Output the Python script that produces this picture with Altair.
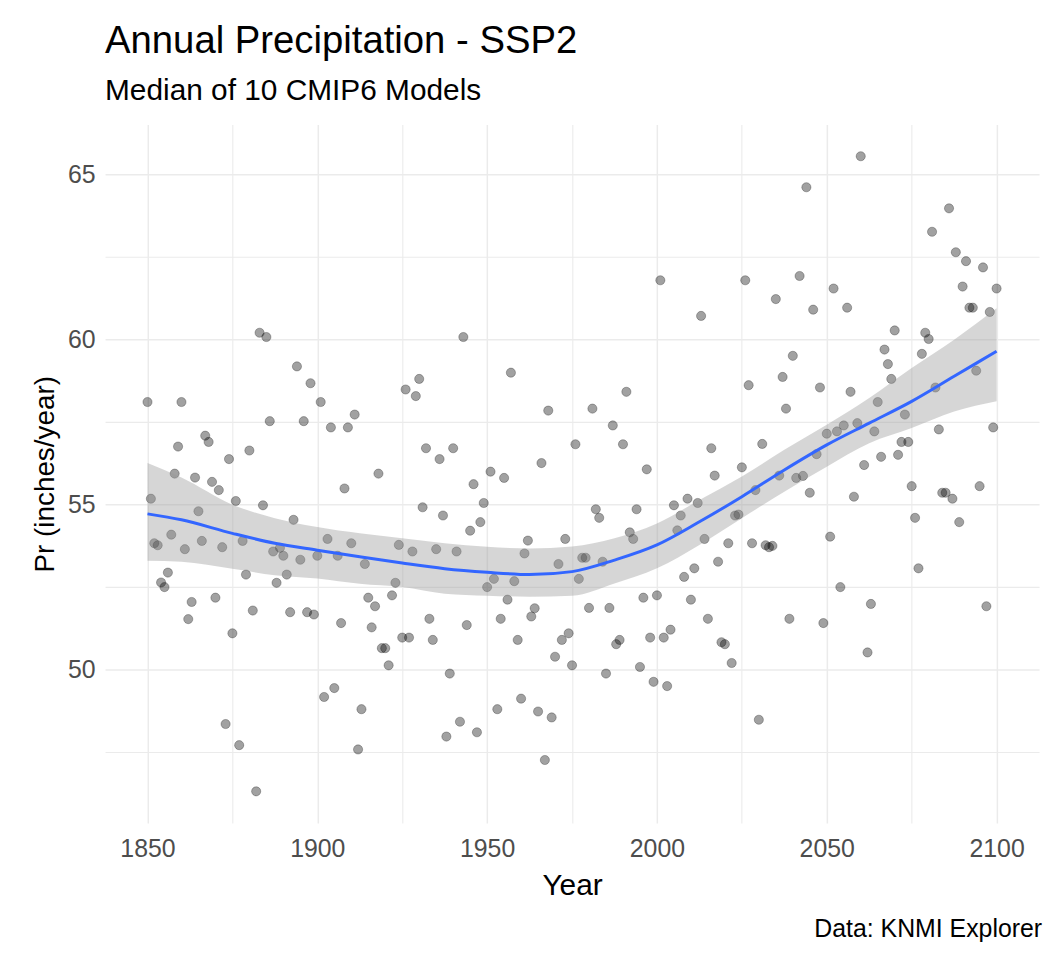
import altair as alt
import pandas as pd

# ---- data ----
years = list(range(1850, 2101))
precip = [
    58.11, 55.18, 53.83, 53.77, 52.64, 52.50, 52.94, 54.09, 55.94, 56.76,  # 1850-1859
    58.11, 53.65, 51.53, 52.05, 55.82, 54.80, 53.90, 57.09, 56.90, 55.69,  # 1860-1869
    52.18, 55.44, 53.71, 48.35, 56.38, 51.10, 55.11, 47.71, 53.90, 52.88,  # 1870-1879
    56.64, 51.79, 46.31, 60.21, 54.98, 60.08, 57.53, 53.58, 52.63, 53.69,  # 1880-1889
    53.45, 52.88, 51.74, 54.54, 59.19, 53.33, 57.53, 51.74, 58.68, 51.67,  # 1890-1899
    53.45, 58.11, 49.17, 53.96, 57.34, 49.44, 53.45, 51.41, 55.49, 57.34,  # 1900-1909
    53.83, 57.73, 47.58, 48.80, 53.20, 52.18, 51.28, 51.92, 55.94, 50.65,  # 1910-1919
    50.65, 50.13, 52.25, 52.63, 53.78, 50.97, 58.49, 50.97, 53.58, 58.29,  # 1920-1929
    58.81, 54.92, 56.71, 51.54, 50.90, 53.65, 56.38, 54.67, 47.97, 49.88,  # 1930-1939
    56.71, 53.58, 48.42, 60.08, 51.35, 54.21, 55.62, 48.10, 54.47, 55.05,  # 1940-1949
    52.50, 56.00, 52.75, 48.80, 51.54, 55.81, 52.12, 59.00, 52.68, 50.90,  # 1950-1959
    49.12, 53.52, 53.91, 51.61, 51.86, 48.73, 56.26, 47.26, 57.85, 48.55,  # 1960-1969
    50.39, 53.20, 50.90, 53.96, 51.10, 50.13, 56.83, 52.75, 53.39, 53.39,  # 1970-1979
    51.87, 57.91, 54.86, 54.60, 53.27, 49.88, 51.87, 57.40, 50.77, 50.90,  # 1980-1989
    56.83, 58.42, 54.16, 53.96, 54.86, 50.08, 52.18, 56.07, 50.97, 49.63,  # 1990-1999
    52.25, 61.80, 50.97, 49.50, 51.21, 54.98, 54.22, 54.67, 52.81, 55.18,  # 2000-2009
    52.12, 53.07, 55.05, 60.72, 53.96, 51.54, 56.71, 55.88, 53.27, 50.83,  # 2010-2019
    50.77, 53.83, 50.20, 54.67, 54.70, 56.13, 61.80, 58.62, 53.83, 55.44,  # 2020-2029
    48.48, 56.84, 53.77, 53.71, 53.75, 61.23, 55.88, 58.87, 57.91, 51.54,  # 2030-2039
    59.51, 55.81, 61.93, 55.87, 64.62, 55.36, 60.91, 56.53, 58.55, 51.41,  # 2040-2049
    57.15, 54.03, 61.55, 57.22, 52.50, 57.40, 60.97, 58.42, 55.24, 57.47,  # 2050-2059
    65.56, 56.20, 50.52, 51.99, 57.22, 58.11, 56.45, 59.70, 59.26, 58.81,  # 2060-2069
    60.28, 56.51, 56.90, 57.73, 56.90, 55.56, 54.60, 53.07, 59.57, 60.21,  # 2070-2079
    60.02, 63.27, 58.55, 57.28, 55.36, 55.36, 63.98, 55.18, 62.65, 54.47,  # 2080-2089
    61.61, 62.38, 60.97, 60.97, 59.06, 55.56, 62.19, 51.92, 60.84, 57.34,  # 2090-2099
    61.55,                                                                 # 2100
]

# smoothed curve (loess) and its confidence band
smooth_year = [1850, 1860, 1875, 1887.5, 1900, 1912.5, 1925, 1937.5, 1950, 1962.5, 1975,
               1987.5, 2000, 2012.5, 2025, 2037.5, 2050, 2062.5, 2075, 2087.5, 2100]
smooth_fit = [54.72, 54.54, 54.13, 53.83, 53.62, 53.42, 53.23, 53.06, 52.95, 52.88, 52.97,
              53.32, 53.78, 54.48, 55.24, 56.05, 56.81, 57.47, 58.13, 58.89, 59.65]
smooth_lo = [53.30, 53.27, 53.06, 52.86, 52.76, 52.60, 52.50, 52.30, 52.24, 52.21, 52.24,
             52.61, 53.07, 53.78, 54.59, 55.39, 56.15, 56.86, 57.32, 57.82, 58.13]
smooth_hi = [56.26, 55.82, 55.00, 54.59, 54.32, 54.13, 53.98, 53.83, 53.72, 53.67, 53.73,
             53.98, 54.43, 55.14, 55.85, 56.66, 57.42, 58.23, 59.14, 60.00, 60.95]

x_ticks = [1850, 1875, 1900, 1925, 1950, 1975, 2000, 2025, 2050, 2075, 2100]
y_ticks = [47.5, 50, 52.5, 55, 57.5, 60, 62.5, 65]

title_text = "Annual Precipitation - SSP2"
subtitle_text = "Median of 10 CMIP6 Models"
caption_text = "Data: KNMI Explorer"
x_title = "Year"
y_title = "Pr (inches/year)"

# ---- layout ----
W, H = 939.4, 702.5
FONT = "Liberation Sans"

pts = pd.DataFrame({"year": years, "pr": precip})
sm = pd.DataFrame({"year": smooth_year, "fit": smooth_fit, "lo": smooth_lo, "hi": smooth_hi})
cap = pd.DataFrame({"t": [caption_text]})

x_scale = alt.Scale(domain=[1837.5, 2112.5], nice=False, zero=False)
y_scale = alt.Scale(domain=[45.35, 66.52], nice=False, zero=False)

x_axis = alt.Axis(
    values=x_ticks, format="d",
    labelExpr="datum.value % 50 === 0 ? datum.label : ''",
    title=x_title, domain=False, ticks=False, tickSize=0,
    grid=True, gridColor="#ebebeb",
    gridWidth={"condition": {"test": "datum.value % 50 === 0", "value": 1.5}, "value": 1.1},
    labelFontSize=25, labelColor="#4d4d4d", labelPadding=34, labelBaseline="alphabetic",
    labelFont=FONT, titleFont=FONT, titleFontSize=30, titleFontWeight="normal",
    titleColor="#000000", titleBaseline="alphabetic", titleY=72, titleX=W / 2,
)
y_axis = alt.Axis(
    values=y_ticks,
    labelExpr="datum.value % 5 === 0 ? datum.label : ''",
    title=y_title, domain=False, ticks=False, tickSize=0,
    grid=True, gridColor="#ebebeb",
    gridWidth={"condition": {"test": "datum.value % 5 === 0", "value": 1.5}, "value": 1.1},
    labelFontSize=25, labelColor="#4d4d4d", labelPadding=10,
    labelFont=FONT, titleFont=FONT, titleFontSize=28, titleFontWeight="normal",
    titleColor="#000000", titleAngle=270, titleBaseline="alphabetic",
    titleAlign="center", titleX=-52, titleY=H / 2,
)

points = alt.Chart(pts).mark_point(
    filled=True, shape="circle", size=85,
    fill="#000000", fillOpacity=0.37,
    stroke="#000000", strokeOpacity=0.3, strokeWidth=0.9,
).encode(
    x=alt.X("year:Q", scale=x_scale, axis=x_axis),
    y=alt.Y("pr:Q", scale=y_scale, axis=y_axis),
)

band = alt.Chart(sm).mark_area(
    color="#999999", opacity=0.4, interpolate="monotone"
).encode(
    x=alt.X("year:Q", scale=x_scale, axis=x_axis),
    y=alt.Y("lo:Q", scale=y_scale, axis=y_axis),
    y2="hi:Q",
)

line = alt.Chart(sm).mark_line(
    color="#3366FF", strokeWidth=3, interpolate="monotone"
).encode(
    x=alt.X("year:Q", scale=x_scale, axis=x_axis),
    y=alt.Y("fit:Q", scale=y_scale, axis=y_axis),
)

caption = alt.Chart(cap).mark_text(
    align="right", baseline="alphabetic", fontSize=25, font=FONT, color="#000000"
).encode(
    text="t:N",
    x=alt.value(942.5),
    y=alt.value(816.8),
)

chart = alt.layer(points, band, line, caption).properties(
    width=W, height=H,
    title=alt.TitleParams(
        text=title_text, subtitle=subtitle_text,
        anchor="start", frame="group", orient="top",
        font=FONT, fontSize=38.5, fontWeight="normal", color="#000000",
        subtitleFont=FONT, subtitleFontSize=30, subtitleColor="#000000",
        subtitlePadding=14, offset=18,
    ),
    autosize=alt.AutoSizeParams(type="none"),
    padding={"left": 97.6, "top": 114.5, "right": 6, "bottom": 128},
    background="#ffffff",
).configure(font=FONT).configure_view(strokeWidth=0, stroke="transparent")

chart.save("out.html", embed_options={"renderer": "svg", "actions": False})
